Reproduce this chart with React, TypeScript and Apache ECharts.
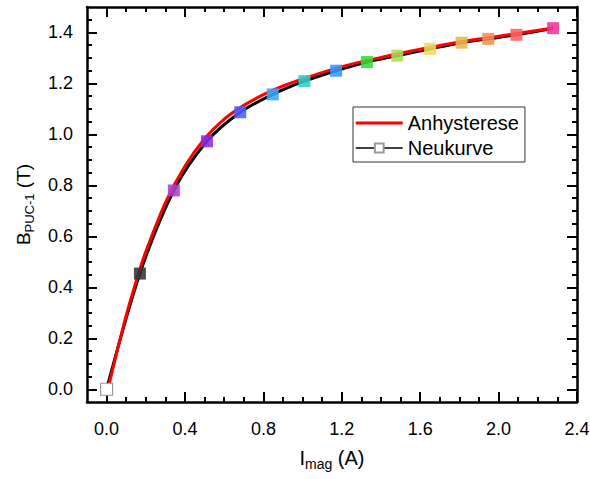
import React, { useEffect, useRef } from "react";
import * as echarts from "echarts";

// Neukurve (measured points)
const neuX = [0, 0.17, 0.343, 0.512, 0.682, 0.848, 1.009, 1.171, 1.328, 1.483, 1.651, 1.811, 1.947, 2.091, 2.278];
const neuY = [0, 0.454, 0.78, 0.973, 1.087, 1.157, 1.209, 1.25, 1.284, 1.309, 1.336, 1.36, 1.375, 1.391, 1.417];
const pointColors = [
  "#ffffff", "#333333", "#b03cd0", "#8a2be2", "#4a5cff", "#33aaff", "#33cccc",
  "#3399ff", "#33dd33", "#aadd55", "#e6dd55", "#e8b850", "#f09050", "#ff6060", "#f03399",
];

// Anhysterese curve
const anhX = [0.01, 0.1, 0.17, 0.2, 0.3, 0.4, 0.5, 0.6, 0.7, 0.8, 0.9, 1.0, 1.2, 1.4, 1.6, 1.8, 2.0, 2.278];
const anhY = [0.01, 0.29, 0.472, 0.54, 0.732, 0.876, 0.983, 1.06, 1.114, 1.156, 1.19, 1.218, 1.266, 1.302, 1.334, 1.363, 1.385, 1.418];

// Axis ticks
const xMajorTicks = [0, 0.4, 0.8, 1.2, 1.6, 2.0, 2.4];
const yMajorTicks = [0, 0.2, 0.4, 0.6, 0.8, 1.0, 1.2, 1.4];
const xMinorTicks = [0.1, 0.2, 0.3, 0.5, 0.6, 0.7, 0.9, 1.0, 1.1, 1.3, 1.4, 1.5, 1.7, 1.8, 1.9, 2.1, 2.2, 2.3];
const yMinorTicks = [0.05, 0.1, 0.15, 0.25, 0.3, 0.35, 0.45, 0.5, 0.55, 0.65, 0.7, 0.75, 0.85, 0.9, 0.95, 1.05, 1.1, 1.15, 1.25, 1.3, 1.35, 1.45];

const FONT = "'Liberation Sans', Arial, sans-serif";
const X_MIN = -0.1, X_MAX = 2.4, Y_MIN = -0.05, Y_MAX = 1.5;

export default function App() {
  const ref = useRef<HTMLDivElement>(null);
  useEffect(() => {
    document.body.style.margin = "0";
    if (!ref.current) return;
    const chart = echarts.init(ref.current, undefined, { renderer: "svg" });

    const axisLine = { show: true, onZero: false, lineStyle: { color: "#000", width: 2.5 } };
    const noLine = { show: false, onZero: false };
    const mkX = (pos: "top" | "bottom", major: boolean, withLine: boolean, labels: boolean, extra: any = {}) => ({
      type: "value", position: pos, min: X_MIN, max: X_MAX,
      axisLine: withLine ? axisLine : noLine,
      axisTick: { show: true, inside: true, length: major ? 10 : 5, lineStyle: { color: "#000", width: 2 }, customValues: major ? xMajorTicks : xMinorTicks },
      axisLabel: labels
        ? { show: true, customValues: xMajorTicks, formatter: (v: number) => v.toFixed(1), color: "#000", fontSize: 18, fontFamily: FONT, margin: 18 }
        : { show: false },
      splitLine: { show: false },
      ...extra,
    });
    const mkY = (pos: "left" | "right", major: boolean, withLine: boolean, labels: boolean, extra: any = {}) => ({
      type: "value", position: pos, min: Y_MIN, max: Y_MAX,
      axisLine: withLine ? axisLine : noLine,
      axisTick: { show: true, inside: true, length: major ? 10 : 5, lineStyle: { color: "#000", width: 2 }, customValues: major ? yMajorTicks : yMinorTicks },
      axisLabel: labels
        ? { show: true, customValues: yMajorTicks, formatter: (v: number) => v.toFixed(1), color: "#000", fontSize: 18, fontFamily: FONT, margin: 14 }
        : { show: false },
      splitLine: { show: false },
      ...extra,
    });

    const markerData = neuX.map((x, i) => ({
      value: [x, neuY[i]],
      itemStyle: i === 0
        ? { color: "#ffffff", borderColor: "#999999", borderWidth: 1.2, opacity: 1 }
        : { color: pointColors[i], borderColor: pointColors[i], borderWidth: 0, opacity: 0.88 },
    }));
    const neuLine = neuX.map((x, i) => [x, neuY[i]]);
    const anhData = anhX.map((x, i) => [x, anhY[i]]);

    chart.setOption({
      animation: false,
      backgroundColor: "#fff",
      grid: { left: 87, right: 13, top: 7, bottom: 77, containLabel: false, outerBoundsMode: "none" },
      xAxis: [
        mkX("bottom", true, true, true, {
          name: "{n|I}{s|mag}{n| (A)}",
          nameLocation: "middle",
          nameGap: 44,
          nameTextStyle: {
            color: "#000", fontFamily: FONT,
            rich: {
              n: { fontSize: 20, fontFamily: FONT, color: "#000", lineHeight: 24 },
              s: { fontSize: 14, fontFamily: FONT, color: "#000", lineHeight: 24, padding: [12, 0, 0, 0] },
            },
          },
        }),
        mkX("bottom", false, false, false),
        mkX("top", true, true, false),
        mkX("top", false, false, false),
      ],
      yAxis: [
        mkY("left", true, true, true, {
          name: "{n|B}{s|PUC-1}{n| (T)}",
          nameLocation: "middle",
          nameGap: 52,
          nameRotate: 90,
          nameTextStyle: {
            color: "#000", fontFamily: FONT,
            rich: {
              n: { fontSize: 19, fontFamily: FONT, color: "#000", lineHeight: 23 },
              s: { fontSize: 13, fontFamily: FONT, color: "#000", lineHeight: 23, padding: [11, 0, 0, 0] },
            },
          },
        }),
        mkY("left", false, false, false),
        mkY("right", true, true, false),
        mkY("right", false, false, false),
      ],
      legend: {
        show: true,
        orient: "vertical",
        left: 353,
        top: 107,
        data: [
          { name: "Anhysterese", icon: "path://M0,0H47V3H0Z" },
          { name: "Neukurve", lineStyle: { width: 1.5 } },
        ],
        borderColor: "#333",
        borderWidth: 1,
        padding: [5, 6, 3, 2],
        itemWidth: 47,
        itemHeight: 11,
        itemGap: 3,
        textStyle: { color: "#000", fontSize: 20, fontFamily: FONT, lineHeight: 22 },
      },
      series: [
        {
          name: "Neukurve",
          type: "line",
          smooth: 0.3,
          symbol: "rect",
          symbolSize: 12,
          showSymbol: false,
          lineStyle: { color: "#000", width: 3 },
          itemStyle: { color: "#ffffff", borderColor: "#999999", borderWidth: 1 },
          data: neuLine,
          z: 2,
        },
        {
          name: "Anhysterese",
          type: "line",
          smooth: 0.3,
          symbol: "none",
          lineStyle: { color: "#ff0000", width: 3 },
          itemStyle: { color: "#ff0000" },
          data: anhData,
          z: 3,
        },
        {
          name: "markers",
          type: "scatter",
          symbol: "rect",
          symbolSize: 12,
          data: markerData,
          z: 5,
        },
      ],
    });
    return () => chart.dispose();
  }, []);
  return <div ref={ref} style={{ width: 590, height: 479 }} />;
}
